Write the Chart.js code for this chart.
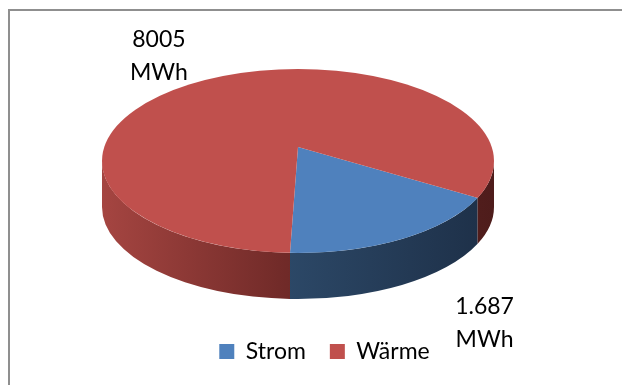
<!DOCTYPE html>
<html>
<head>
<meta charset="utf-8">
<script src="https://cdn.jsdelivr.net/npm/chart.js@4"></script>
<style>
  html, body { margin: 0; padding: 0; background: #ffffff; }
  canvas { display: block; }
</style>
</head>
<body>
<canvas id="chart" width="622" height="385" style="width:622px;height:385px"></canvas>
<script>
// Energy split
const categories = ['Strom', 'Wärme'];
const energyMWh = [1687, 8005];
const valueText = ['1.687', '8005'];
const unitText = 'MWh';

const sliceColors = ['#4F81BD', '#C0504D'];
// side-wall shading, left to right
const wallShades = [
  ['#3A5E87', '#2C4867', '#1D2F47'],
  ['#A54541', '#702A28', '#4E1C1B']
];
const wallStops = [0, 0.47, 1];

const FONT = 'Lato, "Open Sans", sans-serif';

// outline of the tilted disc on screen
const DISC = { cx: 298, cy: 161, rx: 196, ry: 92, depth: 46 };
// slice apex sits behind the outline centre (perspective), with the spread used for the slices
const TOP = { ax: 298, ay: 147, rx: 220, ry: 110 };
// ring on which the value labels sit
const LABEL_RING = { cx: 321.75, cy: 188.25, rx: 334, ry: 153 };

// where a slice edge at angle phi meets the rim, as a parametric angle of the outline
function rimAngle(phi) {
  const px = (TOP.ax - DISC.cx) / DISC.rx, py = (TOP.ay - DISC.cy) / DISC.ry;
  const ux = TOP.rx * Math.cos(phi) / DISC.rx, uy = TOP.ry * Math.sin(phi) / DISC.ry;
  const A = ux * ux + uy * uy, B = 2 * (px * ux + py * uy), C = px * px + py * py - 1;
  const t = (-B + Math.sqrt(B * B - 4 * A * C)) / (2 * A);
  const th = Math.atan2(py + t * uy, px + t * ux);
  return th + 2 * Math.PI * Math.round((phi - th) / (2 * Math.PI));
}

const disc3d = {
  id: 'disc3d',
  beforeDraw(chart) {
    // frame of the chart object
    const ctx = chart.ctx;
    ctx.save();
    ctx.fillStyle = '#8F8F8F';
    ctx.fillRect(8, 9, 614, 2);
    ctx.fillRect(8, 9, 2, 376);
    ctx.restore();
  },
  beforeDatasetsDraw(chart) {
    const ctx = chart.ctx;
    const arcs = chart.getDatasetMeta(0).data;
    const { cx, cy, rx, ry, depth } = DISC;

    // front walls: the part of each slice facing the viewer
    arcs.forEach((arc, i) => {
      const s = rimAngle(arc.startAngle), e = rimAngle(arc.endAngle);
      for (let k = -1; k <= 2; k++) {
        const lo = Math.max(s, 2 * Math.PI * k);
        const hi = Math.min(e, 2 * Math.PI * k + Math.PI);
        if (hi <= lo) continue;
        const g = ctx.createLinearGradient(cx - rx, 0, cx + rx, 0);
        wallShades[i].forEach((c, j) => g.addColorStop(wallStops[j], c));
        ctx.beginPath();
        ctx.ellipse(cx, cy, rx, ry, 0, lo, hi);
        ctx.ellipse(cx, cy + depth, rx, ry, 0, hi, lo, true);
        ctx.closePath();
        ctx.fillStyle = g;
        ctx.fill();
      }
    });

    // top face: the library's arcs spread from the apex, cut to the outline
    const a0 = arcs[0];
    ctx.save();
    ctx.beginPath();
    ctx.ellipse(cx, cy, rx, ry, 0, 0, 2 * Math.PI);
    ctx.clip();
    ctx.translate(TOP.ax, TOP.ay);
    ctx.scale(TOP.rx / a0.outerRadius, TOP.ry / a0.outerRadius);
    ctx.translate(-a0.x, -a0.y);
    arcs.forEach(a => a.draw(ctx));
    ctx.restore();
    return false;
  },
  afterDraw(chart) {
    const ctx = chart.ctx;
    const arcs = chart.getDatasetMeta(0).data;
    ctx.save();
    ctx.font = '23px ' + FONT;
    ctx.fillStyle = '#000000';
    ctx.textAlign = 'center';
    ctx.textBaseline = 'alphabetic';
    arcs.forEach((arc, i) => {
      const m = (arc.startAngle + arc.endAngle) / 2;
      const x = LABEL_RING.cx + LABEL_RING.rx * Math.cos(m);
      const y = LABEL_RING.cy + LABEL_RING.ry * Math.sin(m);
      ctx.fillText(valueText[i], x, y - 7.5);
      ctx.fillText(unitText, x, y + 25.5);
    });
    ctx.restore();
  }
};

new Chart(document.getElementById('chart'), {
  type: 'pie',
  data: {
    labels: categories,
    datasets: [{
      data: energyMWh,
      backgroundColor: sliceColors,
      borderWidth: 0
    }]
  },
  options: {
    responsive: false,
    devicePixelRatio: 1,
    animation: false,
    rotation: 119.5,
    layout: { padding: { left: 27, bottom: 12 } },
    plugins: {
      tooltip: { enabled: false },
      legend: {
        position: 'bottom',
        labels: {
          boxWidth: 15,
          boxHeight: 15,
          padding: 24,
          color: '#000000',
          font: { family: FONT, size: 23 }
        }
      }
    }
  },
  plugins: [disc3d]
});
</script>
</body>
</html>
